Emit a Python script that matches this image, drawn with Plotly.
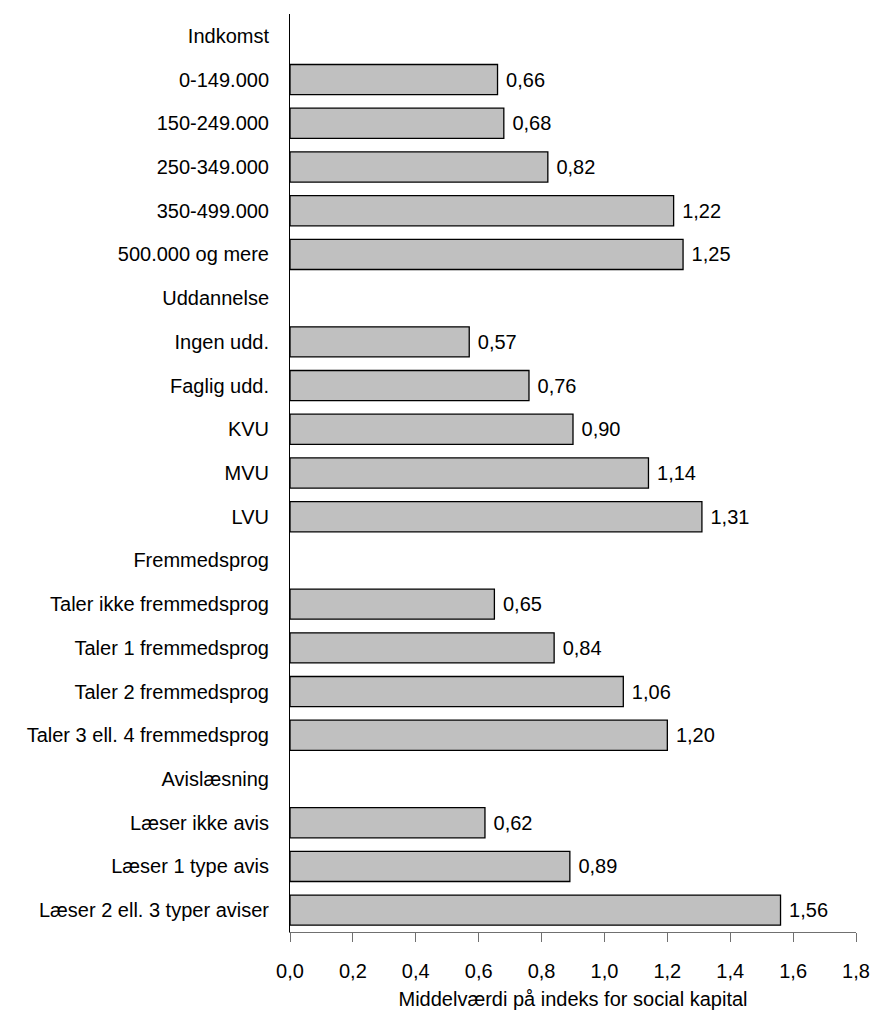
import plotly.graph_objects as go

categories = [
    "Indkomst", "0-149.000", "150-249.000", "250-349.000", "350-499.000", "500.000 og mere",
    "Uddannelse", "Ingen udd.", "Faglig udd.", "KVU", "MVU", "LVU",
    "Fremmedsprog", "Taler ikke fremmedsprog", "Taler 1 fremmedsprog", "Taler 2 fremmedsprog",
    "Taler 3 ell. 4 fremmedsprog",
    "Avislæsning", "Læser ikke avis", "Læser 1 type avis", "Læser 2 ell. 3 typer aviser",
]
values = [
    None, 0.66, 0.68, 0.82, 1.22, 1.25,
    None, 0.57, 0.76, 0.90, 1.14, 1.31,
    None, 0.65, 0.84, 1.06, 1.20,
    None, 0.62, 0.89, 1.56,
]
x_ticks = [0.0, 0.2, 0.4, 0.6, 0.8, 1.0, 1.2, 1.4, 1.6, 1.8]
x_tick_labels = [f"{t:.1f}".replace(".", ",") for t in x_ticks]
x_title = "Middelværdi på indeks for social kapital"

labels = ["" if v is None else "\u00a0" + f"{v:.2f}".replace(".", ",") for v in values]

FONT = "Liberation Sans, Arial, sans-serif"

fig = go.Figure(go.Bar(
    x=values, y=categories, orientation="h",
    marker=dict(color="#c0c0c0", line=dict(color="black", width=1.3)),
    text=labels, textposition="outside", cliponaxis=False,
    textfont=dict(family=FONT, size=20, color="black"),
    hoverinfo="skip",
))

fig.update_layout(
    width=875, height=1020,
    margin=dict(l=290, r=19, t=14, b=88, autoexpand=False),
    paper_bgcolor="white", plot_bgcolor="white",
    bargap=0.31, showlegend=False,
    font=dict(family=FONT, size=20, color="black"),
)
fig.update_xaxes(
    range=[0, 1.8], tickvals=x_ticks, ticktext=x_tick_labels,
    showgrid=False, zeroline=False, automargin=False,
    showline=True, linecolor="#707070", linewidth=1,
    ticks="outside", ticklen=9, tickcolor="#707070", tickwidth=1,
    ticklabelstandoff=12,
    title=dict(text=x_title, standoff=10, font=dict(size=20)),
    tickfont=dict(size=20),
)
fig.update_yaxes(
    categoryorder="array", categoryarray=categories,
    range=[20.5, -0.5], automargin=False,
    showgrid=False, zeroline=False,
    showline=True, linecolor="black", linewidth=1,
    ticks="", ticklabelstandoff=16,
    tickfont=dict(size=20),
)

fig.write_html(
    "out.html",
    config={"displayModeBar": False},
    post_script="document.body.style.margin='0';document.body.style.overflow='hidden';",
)
